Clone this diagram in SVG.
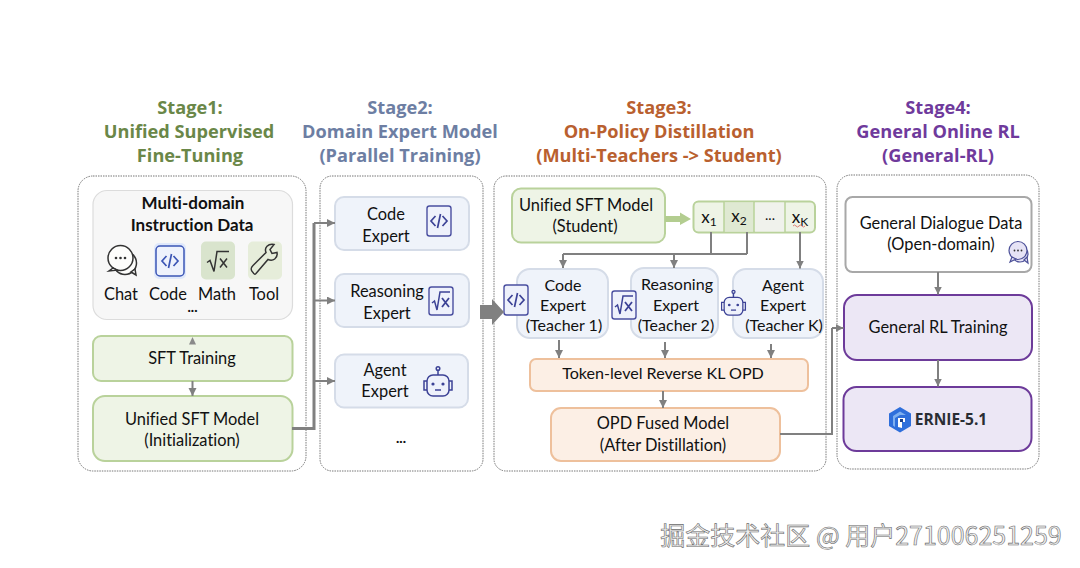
<svg xmlns="http://www.w3.org/2000/svg" width="1080" height="568" viewBox="0 0 1080 568">
<defs>
<marker id="ah" markerUnits="userSpaceOnUse" markerWidth="9" markerHeight="9" refX="8" refY="4" orient="auto"><path d="M0 0L8 4L0 8Z" fill="#808080"/></marker>
<g id="i-code"><rect x="-12" y="-15" width="24" height="30" rx="2.5" fill="#eef1fb" stroke="#4a4fa0" stroke-width="1.4"/><path d="M-3.500 -5L-8 0L-3.500 5M3.500 -5L8 0L3.500 5M1.500 -7L-1.500 7" fill="none" stroke="#3c4296" stroke-width="1.700"/></g>
<g id="i-math"><rect x="-12" y="-14" width="24" height="28" rx="2.5" fill="#eef1fb" stroke="#4a4fa0" stroke-width="1.4"/><path d="M-9 2L-6.500 0L-4 9L-1 -9H9" fill="none" stroke="#3c4296" stroke-width="1.500"/><path d="M1 -3L8 6M8 -3L1 6" fill="none" stroke="#3c4296" stroke-width="1.800"/></g>
<g id="i-bot" fill="none" stroke="#3c4296" stroke-width="1.500"><rect x="-11" y="-9" width="22" height="21" rx="6" fill="#eef1fb"/><path d="M-11 -3H-14V6H-11M11 -3H14V6H11M0 -9V-14"/><circle cx="0" cy="-15.500" r="1.800"/><circle cx="-5" cy="0" r="1.600" fill="#3c4296" stroke="none"/><circle cx="5" cy="0" r="1.600" fill="#3c4296" stroke="none"/><path d="M-3 6H3"/></g>
</defs>
<style>
text{font-family:"Lato","Open Sans","Noto Sans CJK SC",sans-serif;fill:#111;text-anchor:middle;font-size:16.400px;font-variant-ligatures:none}
.h{font-family:"Open Sans","Lato",sans-serif;font-weight:700;font-size:18.200px}
.t{font-size:16px}
.g{fill:#6a8748}.b{fill:#6d7ea3}.o{fill:#b9602f}.p{fill:#6f3a9c}
.stage{fill:#fff;stroke:#777;stroke-width:1;stroke-dasharray:1.500 1}
.grn{fill:#eef4e6;stroke:#b9d29b;stroke-width:2}
.exp{fill:#eff3fa;stroke:#d5dce8;stroke-width:2}
.org{fill:#fcefe5;stroke:#eec09c;stroke-width:2}
.pur{fill:#ece7f5;stroke:#6d3b9a;stroke-width:2}
.c{fill:none;stroke:#808080;stroke-width:2}
.a{marker-end:url(#ah)}
</style>
<rect width="1080" height="568" fill="#fff"/>
<g id="titles">
<text class="h g" x="190" y="114">Stage1:</text><text class="h g" x="189" y="138">Unified Supervised</text><text class="h g" x="190" y="162">Fine-Tuning</text>
<text class="h b" x="400" y="114">Stage2:</text><text class="h b" x="400" y="138">Domain Expert Model</text><text class="h b" x="400" y="162">(Parallel Training)</text>
<text class="h o" x="659" y="114">Stage3:</text><text class="h o" x="659" y="138">On-Policy Distillation</text><text class="h o" x="659" y="162">(Multi-Teachers -&gt; Student)</text>
<text class="h p" x="938" y="114">Stage4:</text><text class="h p" x="938" y="138">General Online RL</text><text class="h p" x="938" y="162">(General-RL)</text>
</g>
<g id="stages">
<rect class="stage" x="78" y="176" width="228" height="295" rx="15"/>
<rect class="stage" x="320" y="176" width="163" height="295" rx="12"/>
<rect class="stage" x="494" y="176" width="332" height="295" rx="12"/>
<rect class="stage" x="837" y="175" width="202" height="294" rx="14"/>
</g>
<g id="n-data">
<rect x="93" y="190.500" width="199.500" height="129" rx="14" fill="#f7f7f7" stroke="#dcdcdc" stroke-width="1.200"/>
<text x="193" y="209" font-weight="700" style="font-size:17px">Multi-domain</text>
<text x="192" y="231" font-weight="700" style="font-size:17px">Instruction Data</text>
<g fill="#fdfdfb" stroke="#333" stroke-width="1.500"><circle cx="125" cy="263" r="11.500"/><path d="M131 272l5 3-1-6z"/><circle cx="120.500" cy="258" r="12.500"/><path d="M113 268l-4 3 8-1z"/></g>
<g fill="#333"><circle cx="116" cy="258" r="1.300"/><circle cx="120.500" cy="258" r="1.300"/><circle cx="125" cy="258" r="1.300"/></g>
<g transform="translate(170 261)"><rect x="-16" y="-18" width="32" height="36" rx="5" fill="#dfe8fb"/><rect x="-14" y="-15" width="28" height="30" rx="4" fill="#eef2fc" stroke="#3b55b5" stroke-width="1.500"/><path d="M-3.500 -5L-8 0L-3.500 5M3.500 -5L8 0L3.500 5M1.500 -7L-1.500 7" fill="none" stroke="#3b55b5" stroke-width="1.700"/></g>
<g transform="translate(218 260.500)"><rect x="-17" y="-19" width="34" height="38" rx="5" fill="#d9e4cd"/><path d="M-11 2L-8 0L-4 11L-1 -9H11" fill="none" stroke="#333" stroke-width="1.500"/><path d="M2 -2L9 7M9 -2L2 7" fill="none" stroke="#333" stroke-width="1.500"/></g>
<g transform="translate(265 260.500)"><rect x="-17" y="-19" width="34" height="38" rx="5" fill="#e6edda"/><path d="M-12 12c-3-3-2-5 0-7L1-8c-2-5 2-9 8-8l-4 5 2 4 5-1c1 6-4 9-9 7L-9 13c-1 1-2 1-3-1z" fill="none" stroke="#333" stroke-width="1.500"/></g>
<text x="121" y="300">Chat</text><text x="168" y="300">Code</text><text x="217" y="300">Math</text><text x="264" y="300">Tool</text>
<text x="192.500" y="312" font-weight="900" style="font-size:14px">...</text>
</g>
<g id="n-sft"><rect class="grn" x="93" y="336" width="199.500" height="45" rx="8"/><text x="192" y="364">SFT Training</text></g>
<g id="n-unified"><rect class="grn" x="93" y="396" width="199.500" height="65" rx="12"/><text x="192" y="425">Unified SFT Model</text><text x="192" y="446">(Initialization)</text></g>
<g id="n-code"><rect class="exp" x="335" y="197" width="134" height="53" rx="9"/><text x="386" y="220">Code</text><text x="386" y="242">Expert</text><use href="#i-code" x="439" y="221"/></g>
<g id="n-reason"><rect class="exp" x="335" y="274" width="134" height="53" rx="9"/><text x="387" y="297">Reasoning</text><text x="387" y="319">Expert</text><use href="#i-math" x="441" y="301"/></g>
<g id="n-agent"><rect class="exp" x="335" y="354.500" width="133" height="53" rx="9"/><text x="385" y="376">Agent</text><text x="385" y="397">Expert</text><use href="#i-bot" x="438" y="384"/></g>
<text x="401" y="443" font-weight="900" style="font-size:14px">...</text>
<g id="n-student"><rect class="grn" x="512" y="188.500" width="153" height="54" rx="9"/><text x="586" y="211">Unified SFT Model</text><text x="585" y="232">(Student)</text></g>
<g id="n-x">
<rect x="693.500" y="201.500" width="121.500" height="31" rx="5" fill="#eef4e6" stroke="#b9d29b" stroke-width="2"/>
<rect x="724" y="202.500" width="30" height="29" fill="#dfe9d2"/><rect x="755" y="202.500" width="30" height="29" fill="#f0f2ec"/>
<path d="M724 202V232M754 202V232M785 202V232" stroke="#b9d29b" stroke-width="1.500"/>
<text x="709" y="223" style="font-size:17px">x<tspan dy="3" style="font-size:12px">1</tspan></text><text x="739" y="222" style="font-size:17px">x<tspan dy="3" style="font-size:12px">2</tspan></text><text x="770" y="220" style="font-size:14px">...</text><text x="800" y="223" style="font-size:17px">x<tspan dy="3" style="font-size:12px">K</tspan></text>
<path d="M793 226q1.500-2 3 0t3 0 3 0 3 0" fill="none" stroke="#d8605a" stroke-width="0.800"/>
</g>
<g id="n-t1"><rect class="exp" x="517" y="269" width="91" height="69" rx="13"/><text class="t" x="563" y="291">Code</text><text class="t" x="563" y="311">Expert</text><text class="t" x="564" y="331">(Teacher 1)</text><use href="#i-code" x="516" y="300"/></g>
<g id="n-t2"><rect class="exp" x="631" y="268" width="87" height="70" rx="13"/><text class="t" x="677" y="290">Reasoning</text><text class="t" x="676" y="311">Expert</text><text class="t" x="676" y="331">(Teacher 2)</text><use href="#i-math" x="624" y="305"/></g>
<g id="n-tk"><rect class="exp" x="733" y="269" width="90" height="69" rx="13"/><text class="t" x="783" y="291">Agent</text><text class="t" x="783" y="311">Expert</text><text class="t" x="784" y="331">(Teacher K)</text><use href="#i-bot" x="733.500" y="305" transform="translate(733.500 305) scale(.85) translate(-733.500 -305)"/></g>
<g id="n-token"><rect class="org" x="530" y="359" width="278" height="32" rx="6"/><text x="663" y="379" style="font-size:16.100px">Token-level Reverse KL OPD</text></g>
<g id="n-opd"><rect class="org" x="551" y="408" width="229" height="53" rx="10"/><text x="663" y="429">OPD Fused Model</text><text x="663" y="451">(After Distillation)</text></g>
<g id="n-dialogue"><rect x="845.500" y="197" width="186" height="75" rx="7" fill="#fff" stroke="#a8a8a8" stroke-width="2"/><text x="941" y="229">General Dialogue Data</text><text x="941" y="250">(Open-domain)</text>
<g fill="#e6e3f5" stroke="#4d5199" stroke-width="1.200"><circle cx="1020" cy="254" r="8"/><path d="M1024 260l4 3-1-6z"/><circle cx="1018" cy="250.500" r="9"/><path d="M1012 257l-2 5 6-3z"/></g><g fill="#333"><circle cx="1014.500" cy="250.500" r="0.900"/><circle cx="1018" cy="250.500" r="0.900"/><circle cx="1021.500" cy="250.500" r="0.900"/></g></g>
<g id="n-rl"><rect class="pur" x="844" y="295" width="188" height="65" rx="13"/><text x="938" y="333">General RL Training</text></g>
<g id="n-ernie"><rect class="pur" x="843.500" y="387" width="188" height="64" rx="13"/>
<path d="M900 407l11 6.500v12.500l-11 6.500-11-6.500v-12.500z" fill="#2f6fdb"/><path d="M900 411.500l6 3.500h-6l-5 3v9l-2-1.500v-9.500z" fill="#7fb0f0"/><path d="M898 418h7v4h-3v6l-4-1z" fill="#fff"/><path d="M900 419h3v3h-3z" fill="#1c3e86"/>
<text x="951" y="425" font-weight="700" style="font-size:15.500px;fill:#2a2d33;font-family:'Open Sans',sans-serif">ERNIE-5.1</text></g>
<g id="connectors">
<path d="M189 344.500L192.500 337L196 344.500Z" fill="#8a8a8a"/>
<path class="c a" d="M192.500 381V396"/>
<path d="M292 428.500H314V223" fill="none" stroke="#808080" stroke-width="3"/>
<path d="M314 223H335" class="c a"/><path d="M314 300.500H335" class="c a"/><path d="M314 381H335" class="c a"/>
<path d="M480 305H492V299L504 312L492 325V319H480Z" fill="#808080"/>
<path d="M665 216H680V212.500L691 219L680 225V222H665Z" fill="#b3cd90"/>
<path class="c" d="M711 232V254M747 232V254M563 254H747"/>
<path class="c a" d="M563 254V268"/><path class="c a" d="M674 254V268"/><path class="c a" d="M800 232V268.500"/>
<path class="c a" d="M559 340V358"/><path class="c a" d="M665 342V358"/><path class="c a" d="M771 344V358"/>
<path class="c a" d="M663 391V408"/>
<path class="c" d="M780 434H832V328"/><path class="c a" d="M832 328H843.500"/>
<path class="c a" d="M938 272V294.500"/><path class="c a" d="M938 360V386.500"/>
</g>
<text id="watermark" x="861" y="545" style="font-family:'Noto Sans CJK SC',sans-serif;font-size:25px;fill:#efefef;stroke:#6a6a6a;stroke-width:.6">掘金技术社区 @ 用户271006251259</text>
</svg>
